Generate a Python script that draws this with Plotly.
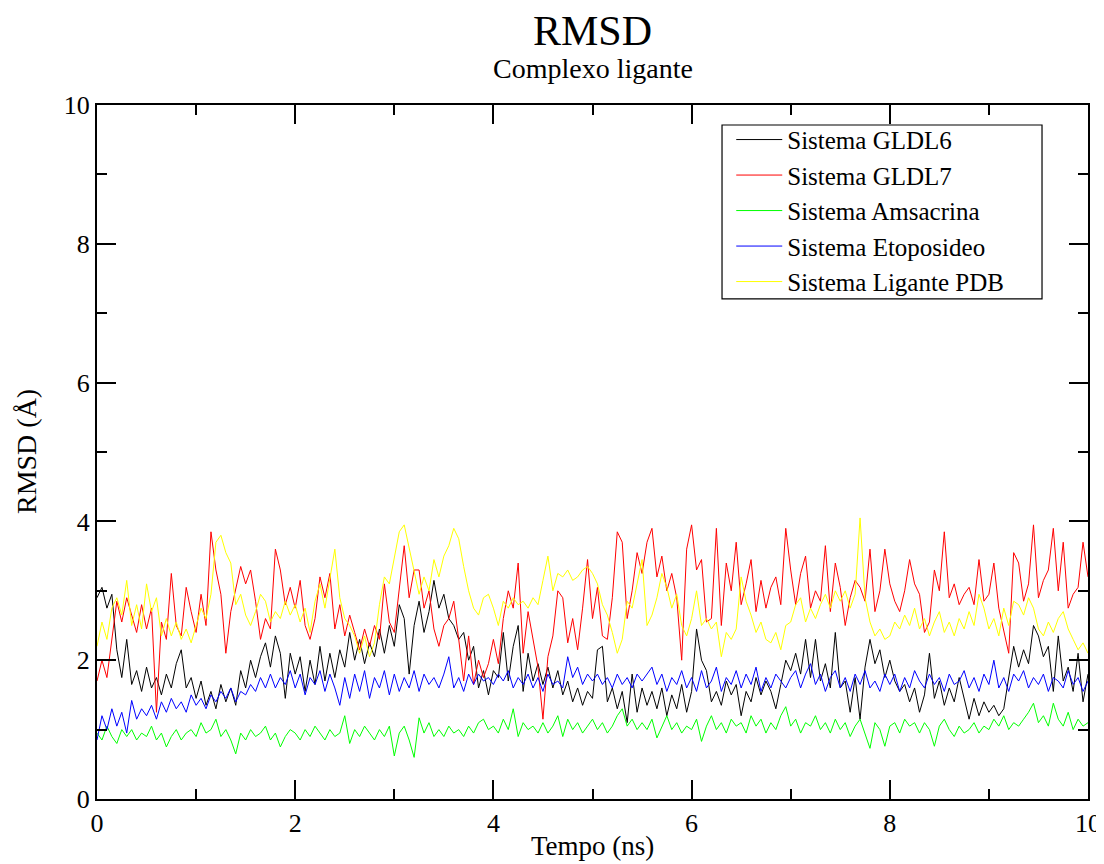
import plotly.graph_objects as go

gldl6 = [2.9, 3.05, 2.75, 2.95, 2.15, 1.75, 2.3, 1.65, 1.85, 1.55,
         1.9, 1.6, 1.75, 1.5, 1.8, 1.6, 1.95, 2.15, 1.6, 1.75,
         1.45, 1.7, 1.35, 1.55, 1.3, 1.65, 1.4, 1.6, 1.35, 1.85,
         1.6, 2.0, 1.75, 2.05, 2.25, 1.9, 2.35, 2.1, 1.45, 2.1,
         1.8, 2.05, 1.55, 2.0, 1.65, 2.2, 1.7, 2.1, 1.75, 2.15,
         1.9, 2.4, 2.0, 2.3, 1.95, 2.25, 2.05, 2.45, 2.1, 2.5,
         2.2, 2.8, 2.6, 1.8, 2.5, 2.85, 2.4, 2.7, 3.15, 2.75,
         2.95, 2.6, 2.5, 2.3, 2.4, 2.0, 2.2, 1.6, 1.85, 1.5,
         1.85, 1.75, 2.4, 1.7, 2.2, 2.5, 1.55, 2.1, 1.7, 1.95,
         1.65, 1.9, 1.6, 1.85, 1.5, 1.7, 1.4, 1.6, 1.35, 1.55,
         1.45, 2.15, 2.2, 1.4, 1.6, 1.3, 1.55, 1.1, 1.8, 1.25,
         1.6, 1.35, 1.55, 1.3, 1.6, 1.2, 1.5, 1.3, 1.65, 1.25,
         1.55, 2.45, 2.0, 1.85, 1.4, 1.55, 1.35, 1.7, 1.5, 1.65,
         1.2, 1.55, 1.4, 1.75, 1.5, 1.7, 1.55, 1.3, 1.65, 2.0,
         1.85, 2.1, 1.8, 2.3, 1.75, 2.3, 1.7, 1.95, 1.6, 2.4,
         1.6, 1.7, 1.25, 1.75, 1.15, 1.9, 2.3, 1.95, 2.15, 1.75,
         2.0, 1.7, 1.55, 1.65, 1.4, 1.6, 1.25, 1.5, 2.1, 1.45,
         1.7, 1.35, 1.6, 1.4, 1.75, 1.45, 1.15, 1.45, 1.2, 1.4,
         1.25, 1.35, 1.2, 1.3, 1.75, 2.2, 1.9, 2.15, 1.95, 2.5,
         2.35, 2.05, 2.2, 1.55, 2.35, 1.7, 1.9, 1.55, 2.1, 1.4,
         1.8]

gldl7 = [1.7, 2.0, 1.75, 2.3, 2.85, 2.55, 2.9, 2.65, 2.4, 2.8,
         2.45, 2.75, 1.25, 2.55, 2.3, 3.25, 2.5, 2.35, 3.05, 2.7,
         2.4, 2.95, 2.5, 3.85, 3.3, 2.95, 2.1, 2.7, 3.05, 3.35,
         3.1, 3.3, 2.85, 2.3, 2.6, 2.45, 3.6, 3.3, 2.8, 3.05,
         2.75, 3.15, 2.5, 2.3, 2.6, 3.2, 2.9, 3.25, 2.45, 2.8,
         2.35, 2.65, 2.4, 2.15, 2.45, 2.2, 2.5, 2.3, 3.1, 2.55,
         2.4, 3.0, 3.65, 2.9, 3.3, 3.3, 2.75, 3.0, 2.45, 2.2,
         2.5, 2.6, 2.85, 2.3, 1.7, 2.35, 1.65, 2.0, 1.75, 1.95,
         2.3, 1.95, 2.6, 3.0, 2.75, 3.4, 2.1, 2.7, 2.3, 1.9,
         1.15, 2.05, 2.35, 3.0, 2.9, 2.25, 2.6, 2.15, 2.75, 3.45,
         2.6, 3.05, 2.35, 2.3, 2.9, 3.85, 3.7, 2.6, 3.0, 3.55,
         3.25, 3.7, 3.9, 3.2, 3.5, 3.0, 3.25, 2.9, 2.0, 3.6,
         3.95, 3.3, 3.45, 2.55, 2.6, 3.9, 2.5, 3.4, 3.0, 3.7,
         2.8, 3.1, 3.45, 2.7, 3.15, 2.75, 3.05, 3.2, 2.8, 3.9,
         3.3, 2.8, 3.25, 3.5, 2.75, 3.0, 2.85, 3.65, 2.7, 3.4,
         3.05, 2.5, 2.9, 3.15, 3.05, 2.85, 3.6, 2.7, 3.0, 3.6,
         3.1, 2.85, 2.7, 3.0, 3.45, 3.1, 2.95, 2.4, 2.55, 3.3,
         3.0, 3.85, 2.9, 3.1, 2.8, 2.95, 3.05, 2.8, 3.45, 2.85,
         2.95, 3.4, 2.75, 2.4, 2.1, 3.55, 3.4, 2.85, 3.1, 3.95,
         2.9, 3.15, 3.3, 3.9, 3.0, 3.7, 2.75, 2.95, 3.05, 3.7,
         3.2]

amsacrina = [0.95, 0.85, 1.05, 0.9, 0.8, 1.0, 0.9, 1.0, 0.85, 0.95,
             0.9, 1.05, 0.85, 0.95, 0.75, 0.9, 1.0, 0.85, 0.95, 1.0,
             0.9, 1.1, 0.95, 1.0, 1.15, 0.9, 1.0, 0.85, 0.65, 0.95,
             0.85, 1.0, 0.9, 0.95, 1.05, 0.85, 0.95, 0.75, 0.9, 1.0,
             0.95, 0.85, 1.0, 0.9, 1.05, 0.95, 0.85, 1.0, 0.9, 0.95,
             1.2, 0.8, 1.0, 0.9, 1.05, 0.95, 0.85, 1.0, 0.9, 1.05,
             0.62, 0.95, 1.05, 0.85, 0.6, 1.17, 0.95, 1.1, 0.9, 1.0,
             0.9, 1.05, 0.95, 1.0, 0.9, 1.05, 0.95, 1.1, 1.15, 1.0,
             1.05, 0.95, 1.15, 1.0, 1.3, 0.9, 1.1, 1.0, 1.05, 0.95,
             1.1, 0.95, 1.05, 1.2, 0.9, 1.15, 1.0, 1.1, 0.95, 1.05,
             1.15, 1.0, 1.1, 0.95, 1.05, 1.2, 1.3, 1.05, 1.15, 1.0,
             1.1, 1.0, 1.15, 0.88, 1.05, 1.2, 1.0, 1.1, 0.95, 1.05,
             1.0, 1.15, 0.83, 1.05, 1.2, 1.0, 1.1, 0.95, 1.15, 1.05,
             1.1, 0.95, 1.2, 1.05, 1.15, 0.95, 1.1, 1.0, 1.2, 1.33,
             1.05, 1.15, 0.95, 1.1, 1.05, 1.2, 1.0, 1.1, 0.95, 1.15,
             1.0, 1.1, 0.9, 1.05, 1.15, 0.95, 0.73, 1.1, 1.0, 0.76,
             1.05, 1.1, 0.95, 1.15, 1.05, 1.1, 0.95, 1.1, 1.0, 0.76,
             1.05, 1.15, 1.0, 0.9, 1.05, 0.95, 1.0, 1.1, 0.95, 1.05,
             1.0, 1.15, 1.05, 1.2, 1.0, 1.1, 1.05, 1.15, 1.25, 1.38,
             1.1, 1.2, 1.05, 1.38, 1.15, 1.05, 1.25, 1.0, 1.15, 1.05,
             1.1]

etoposideo = [0.85, 1.2, 1.0, 1.3, 1.05, 1.25, 0.95, 1.42, 1.15, 1.3,
              1.2, 1.35, 1.15, 1.4, 1.25, 1.45, 1.3, 1.4, 1.25, 1.5,
              1.35, 1.45, 1.3, 1.5, 1.4, 1.55, 1.45, 1.6, 1.4, 1.55,
              1.5, 1.65, 1.55, 1.75, 1.6, 1.8, 1.6, 1.75, 1.65, 1.85,
              1.6, 1.8, 1.5, 1.75, 1.65, 1.85, 1.55, 1.8, 1.6, 1.35,
              1.75, 1.45, 1.8, 1.55, 1.85, 1.45, 1.75, 1.6, 1.85, 1.5,
              1.8, 1.55, 1.75, 1.6, 1.85, 1.55, 1.8, 1.65, 1.75, 1.6,
              1.8, 2.05, 1.6, 1.75, 1.55, 1.8, 1.65, 1.8, 1.7, 1.75,
              1.65, 1.8, 1.7, 1.85, 1.6, 1.75, 1.65, 1.8, 1.6, 1.75,
              1.55, 1.8, 1.65, 1.7, 1.6, 2.05, 1.75, 1.9, 1.65, 1.8,
              1.7, 1.8, 1.65, 1.75, 1.6, 1.8, 1.65, 1.75, 1.6, 1.8,
              1.7, 1.8, 1.9, 1.65, 1.8, 1.55, 1.75, 1.65, 1.85, 1.6,
              1.75, 1.55, 1.85, 1.6, 1.7, 1.9, 1.55, 1.75, 1.65, 1.85,
              1.6, 1.8, 1.65, 1.9, 1.55, 1.75, 1.6, 1.8, 1.7, 1.6,
              1.75, 1.85, 1.6, 1.8, 1.95, 1.65, 1.8, 1.55, 1.75, 1.85,
              1.6, 1.75, 1.55, 1.8, 1.65, 1.85, 1.6, 1.7, 1.55, 1.8,
              1.65, 1.8, 1.55, 1.75, 1.6, 1.85, 1.7, 1.6, 1.8, 1.65,
              1.75, 1.55, 1.8, 1.65, 1.7, 1.85, 1.6, 1.75, 1.55, 1.8,
              1.65, 2.0, 1.6, 1.75, 1.55, 1.8, 1.7, 1.85, 1.6, 1.75,
              1.65, 1.8, 1.55, 1.75, 1.7, 1.6, 1.85, 1.65, 1.75, 1.55,
              1.7]

ligante_pdb = [2.2, 2.55, 2.3, 2.75, 2.9, 2.65, 3.15, 2.5, 2.8, 2.45,
               3.1, 2.7, 2.9, 2.35, 2.6, 2.35, 2.55, 2.3, 2.45, 2.25,
               2.5, 2.75, 2.6, 2.95, 3.7, 3.8, 3.55, 3.4, 2.8, 2.95,
               2.65, 2.5, 2.7, 2.95, 2.85, 2.55, 2.7, 2.6, 2.85, 2.65,
               2.8, 2.55, 2.75, 2.4, 2.85, 3.1, 2.75, 3.2, 3.6, 2.9,
               2.6, 2.5, 2.35, 2.1, 2.35, 2.05, 2.25, 2.8, 3.2, 3.1,
               3.45, 3.85, 3.95, 3.6, 3.3, 2.95, 3.2, 3.0, 3.45, 3.2,
               3.5, 3.65, 3.9, 3.75, 3.35, 3.0, 2.75, 2.65, 2.9, 2.95,
               2.75, 2.5, 2.85, 2.75, 2.9, 2.8, 2.85, 2.75, 2.9, 2.8,
               3.15, 3.5, 3.0, 3.25, 3.2, 3.3, 3.15, 3.2, 3.3, 3.35,
               3.25, 3.1, 2.8, 2.65, 2.4, 2.1, 2.3, 2.85, 2.75, 3.1,
               3.45, 2.5, 2.65, 2.9, 3.25, 3.05, 2.75, 2.95, 2.5, 2.35,
               2.6, 3.0, 2.5, 2.6, 2.45, 2.55, 2.05, 2.4, 2.3, 2.45,
               3.2, 2.85, 2.65, 2.4, 2.55, 2.3, 2.25, 2.4, 2.15, 2.5,
               2.55, 2.8, 2.9, 2.55, 2.75, 2.6, 2.8, 2.95, 2.75, 3.0,
               2.85, 3.0, 2.75, 2.95, 4.05, 2.9, 2.55, 2.35, 2.45, 2.3,
               2.35, 2.55, 2.45, 2.65, 2.5, 2.75, 2.45, 2.6, 2.35, 2.55,
               2.7, 2.4, 2.55, 2.35, 2.6, 2.45, 2.7, 2.5, 2.95, 2.75,
               2.45, 2.6, 2.35, 2.75, 2.5, 2.85, 2.8, 2.65, 2.9, 2.75,
               2.45, 2.35, 2.55, 2.4, 2.6, 2.7, 2.45, 2.3, 2.15, 2.25,
               2.1]

series_names = ["Sistema GLDL6", "Sistema GLDL7", "Sistema Amsacrina",
                "Sistema Etoposideo", "Sistema Ligante PDB"]
series_values = [gldl6, gldl7, amsacrina, etoposideo, ligante_pdb]
series_colors = ["#000000", "#ff0000", "#00ff00", "#0000ff", "#ffff00"]
time_step_ns = 0.05

FONT = "Liberation Serif, Times New Roman, serif"

fig = go.Figure()
for name, vals, col in zip(series_names, series_values, series_colors):
    t = [round(i * time_step_ns, 3) for i in range(len(vals))]
    fig.add_trace(go.Scatter(x=t, y=vals, mode="lines", name=name,
                             line=dict(color=col, width=1)))

axis_common = dict(
    range=[0, 10], dtick=2, tick0=0, automargin=False,
    showgrid=False, zeroline=False,
    showline=True, linecolor="#000000", linewidth=2, mirror="ticks",
    ticks="inside", ticklen=19, tickwidth=1.5, tickcolor="#000000",
    minor=dict(dtick=1, ticks="inside", ticklen=10, tickwidth=1.5,
               tickcolor="#000000", showgrid=False),
    tickfont=dict(family=FONT, size=26, color="#000000"),
)

fig.update_layout(
    width=1096, height=856, autosize=False,
    margin=dict(l=89, r=16, t=97, b=65),
    paper_bgcolor="white", plot_bgcolor="white",
    font=dict(family=FONT, color="#000000"),
    xaxis=dict(**axis_common),
    yaxis=dict(**axis_common),
    showlegend=True,
    legend=dict(x=0.640, y=0.983, xanchor="left", yanchor="top",
                bgcolor="rgba(0,0,0,0)", borderwidth=0,
                font=dict(family=FONT, size=25, color="#000000"),
                tracegroupgap=0, itemwidth=46),
)

# legend frame
fig.add_shape(type="rect", xref="paper", yref="paper",
              x0=0.6307, x1=0.9536, y0=0.7205, y1=0.9712,
              line=dict(color="#000000", width=1.2), fillcolor="rgba(0,0,0,0)",
              layer="above")

annots = [
    dict(text="RMSD", x=0.5, y=1.071, size=42),
    dict(text="Complexo ligante", x=0.5, y=1.028, size=28),
]
for a in annots:
    fig.add_annotation(text=a["text"], x=a["x"], y=a["y"], xref="paper", yref="paper",
                       xanchor="center", yanchor="bottom", showarrow=False,
                       font=dict(family=FONT, size=a["size"], color="#000000"))

fig.add_annotation(text="Tempo (ns)", x=0.5, y=-0.0915, xref="paper", yref="paper",
                   xanchor="center", yanchor="bottom", showarrow=False,
                   font=dict(family=FONT, size=27, color="#000000"))
fig.add_annotation(text="RMSD (Å)", x=-0.0716, y=0.5, xref="paper", yref="paper",
                   xanchor="center", yanchor="middle", showarrow=False, textangle=-90,
                   font=dict(family=FONT, size=28, color="#000000"))

fig.write_html("out.html")
